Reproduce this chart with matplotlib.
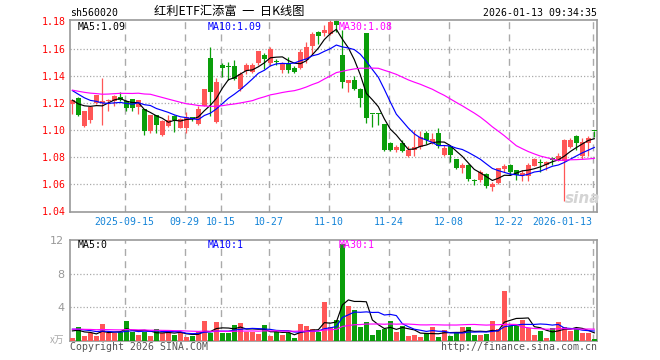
import numpy as np
import matplotlib.pyplot as plt

# trading days shown (2025-09-02 .. 2026-01-13)
dates = ['09-02', '09-03', '09-04', '09-05', '09-08', '09-09', '09-10', '09-11', '09-12',
         '09-15', '09-16', '09-17', '09-18', '09-19', '09-22', '09-23', '09-24', '09-25', '09-26',
         '09-29', '09-30', '10-09', '10-10', '10-13', '10-14', '10-15', '10-16', '10-17',
         '10-20', '10-21', '10-22', '10-23', '10-24', '10-27', '10-28', '10-29', '10-30', '10-31',
         '11-03', '11-04', '11-05', '11-06', '11-07', '11-10', '11-11', '11-12', '11-13', '11-14',
         '11-17', '11-18', '11-19', '11-20', '11-21', '11-24', '11-25', '11-26', '11-27', '11-28',
         '12-01', '12-02', '12-03', '12-04', '12-05', '12-08', '12-09', '12-10', '12-11', '12-12',
         '12-15', '12-16', '12-17', '12-18', '12-19', '12-22', '12-23', '12-24', '12-25', '12-26',
         '12-29', '12-30', '12-31', '01-05', '01-06', '01-07', '01-08', '01-09', '01-12', '01-13']

tick_dates = ['09-15', '09-29', '10-15', '10-27', '11-10', '11-24', '12-08', '12-22', '01-13']
tick_labels = ['2025-09-15', '09-29', '10-15', '10-27', '11-10', '11-24', '12-08', '12-22', '2026-01-13']

open_ = [1.119, 1.1235, 1.103, 1.107, 1.120, 1.120, 1.121, 1.1217, 1.1245, 1.121,
         1.1228, 1.117, 1.1155, 1.099, 1.111, 1.0963, 1.103, 1.1105, 1.1017, 1.1015,
         1.1094, 1.1042, 1.118, 1.1533, 1.1061, 1.148, 1.147, 1.1473, 1.130, 1.1432,
         1.1424, 1.149, 1.1554, 1.149, 1.1505, 1.1445, 1.149, 1.146, 1.1455, 1.1516,
         1.1615, 1.172, 1.1715, 1.171, 1.1805, 1.155, 1.1345, 1.137, 1.1302, 1.1715,
         1.1118, 1.112, 1.1045, 1.0906, 1.085, 1.0906, 1.0805, 1.0853, 1.0877, 1.0975,
         1.0915, 1.098, 1.0816, 1.0885, 1.0785, 1.0723, 1.0743, 1.0628, 1.0633, 1.0677,
         1.0583, 1.0613, 1.0711, 1.0743, 1.0702, 1.067, 1.0663, 1.0732, 1.0758, 1.0744,
         1.0793, 1.078, 1.0768, 1.0873, 1.0956, 1.0805, 1.0902, 1.0993]
high = [1.1222, 1.124, 1.1142, 1.1173, 1.126, 1.138, 1.123, 1.126, 1.128, 1.122,
        1.123, 1.122, 1.1155, 1.111, 1.111, 1.107, 1.111, 1.111, 1.1086, 1.113,
        1.1094, 1.118, 1.130, 1.1614, 1.138, 1.149, 1.150, 1.1517, 1.143, 1.149,
        1.149, 1.1585, 1.1567, 1.161, 1.152, 1.150, 1.154, 1.147, 1.160, 1.165,
        1.1725, 1.173, 1.177, 1.181, 1.181, 1.174, 1.137, 1.140, 1.131, 1.1715,
        1.112, 1.1125, 1.1045, 1.0915, 1.089, 1.0925, 1.088, 1.100, 1.0995, 1.099,
        1.0975, 1.1012, 1.089, 1.089, 1.0785, 1.076, 1.075, 1.0637, 1.0706, 1.068,
        1.062, 1.0718, 1.075, 1.075, 1.0705, 1.0705, 1.0756, 1.0795, 1.0788, 1.0775,
        1.0803, 1.083, 1.0935, 1.094, 1.0963, 1.094, 1.0956, 1.0993]
low = [1.112, 1.110, 1.102, 1.105, 1.119, 1.104, 1.114, 1.118, 1.121, 1.114,
       1.114, 1.112, 1.096, 1.098, 1.098, 1.0956, 1.1025, 1.0988, 1.1012, 1.098,
       1.1068, 1.1035, 1.118, 1.110, 1.105, 1.139, 1.137, 1.137, 1.1285, 1.141,
       1.142, 1.148, 1.1448, 1.147, 1.1475, 1.142, 1.142, 1.142, 1.145, 1.149,
       1.156, 1.163, 1.169, 1.170, 1.172, 1.131, 1.128, 1.1296, 1.117, 1.105,
       1.1025, 1.1035, 1.0845, 1.0845, 1.084, 1.084, 1.0798, 1.0805, 1.086, 1.090,
       1.090, 1.0865, 1.081, 1.0767, 1.071, 1.068, 1.0625, 1.0597, 1.062, 1.057,
       1.0547, 1.0603, 1.069, 1.067, 1.0634, 1.0622, 1.0622, 1.0732, 1.0688, 1.0705,
       1.0744, 1.0768, 1.0475, 1.0866, 1.0854, 1.079, 1.0805, 1.0946]
close = [1.122, 1.111, 1.114, 1.117, 1.1258, 1.121, 1.122, 1.125, 1.122, 1.116,
         1.116, 1.122, 1.0995, 1.111, 1.1037, 1.1068, 1.1074, 1.107, 1.108, 1.1096,
         1.108, 1.1155, 1.130, 1.128, 1.135, 1.1455, 1.1465, 1.1375, 1.1415, 1.1478,
         1.148, 1.158, 1.152, 1.160, 1.1502, 1.149, 1.1445, 1.1425, 1.1577, 1.1614,
         1.171, 1.169, 1.174, 1.1795, 1.177, 1.135, 1.137, 1.1303, 1.1235, 1.109,
         1.1115, 1.1115, 1.0855, 1.0855, 1.0875, 1.0846, 1.0853, 1.0872, 1.095, 1.0925,
         1.0934, 1.088, 1.0865, 1.0818, 1.0723, 1.0743, 1.0637, 1.0626, 1.0694, 1.0584,
         1.060, 1.0718, 1.0737, 1.0688, 1.067, 1.0683, 1.0744, 1.0788, 1.0756, 1.0763,
         1.078, 1.081, 1.0927, 1.0927, 1.0907, 1.0915, 1.0939, 1.0991]
# volume, 万手
volume = [0.4, 1.7, 0.6, 0.9, 0.6, 2.0, 0.9, 0.9, 1.1, 2.4,
          1.1, 0.7, 1.1, 0.6, 1.4, 1.0, 1.0, 0.7, 1.1, 0.5,
          0.6, 1.1, 2.4, 1.0, 2.3, 1.0, 1.0, 1.9, 2.1, 1.1,
          1.1, 0.8, 1.9, 0.6, 1.1, 0.7, 0.9, 0.4, 2.0, 1.8,
          1.4, 1.1, 4.6, 1.7, 2.5, 11.5, 4.1, 3.7, 1.7, 2.3,
          0.7, 1.3, 1.4, 2.4, 1.1, 1.8, 0.6, 0.7, 0.5, 0.9,
          1.7, 0.5, 1.3, 0.6, 1.0, 1.7, 1.7, 0.7, 0.7, 0.8,
          2.4, 1.4, 5.9, 1.8, 1.9, 2.5, 1.6, 0.7, 1.2, 0.4,
          1.5, 2.2, 1.7, 1.2, 1.4, 1.0, 1.0, 0.25]

# days before the window (not drawn), estimated from where the MA lines start
pre_close = [1.136, 1.137, 1.135, 1.136, 1.135,
             1.118, 1.116, 1.115, 1.117, 1.118, 1.116, 1.117, 1.117,
             1.140, 1.142, 1.143, 1.142, 1.143, 1.142, 1.125,
             1.138, 1.140, 1.136, 1.133, 1.133,
             1.125, 1.121, 1.119, 1.123]
pre_volume = [1.3, 1.5, 1.2, 1.6, 1.4, 1.3, 1.5, 1.4, 1.2, 1.6,
              1.4, 1.3, 1.5, 1.4, 1.5, 1.3, 1.4, 1.2, 1.6, 1.4,
              1.7, 1.5, 1.6, 1.8, 1.4,
              1.3, 1.6, 1.2, 1.5]

UP = '#ff5656'
DOWN = '#0a9e0a'
GRID = '#aaaaaa'
MONO = 'DejaVu Sans Mono'
W, H = 660, 360


def sma(values, n, keep):
    return np.convolve(values, np.ones(n) / n, mode='valid')[-keep:]


def fx(px):
    return px / W


def fy(py):
    return 1 - py / H


n = len(close)
x = np.arange(n)
o = np.array(open_)
c = np.array(close)
colors = [UP if c[i] > o[i] else DOWN for i in range(n)]

all_close = pre_close + close
all_vol = pre_volume + volume
ma = {k: sma(all_close, k, n) for k in (5, 10, 30)}
vma = {k: sma(all_vol, k, n) for k in (5, 10, 30)}
line_col = {5: 'black', 10: '#0000ff', 30: '#ff00ff'}

fig = plt.figure(figsize=(6.6, 3.6), dpi=100)
ax = fig.add_axes([fx(70), fy(212), fx(527), 192 / H])
axv = fig.add_axes([fx(70), fy(341), fx(527), 101 / H])

tick_pos = np.array([dates.index(d) for d in tick_dates]) - 0.28

for a in (ax, axv):
    a.set_xlim(-0.4, 87.45)
    for s in a.spines.values():
        s.set_color('#999999')
        s.set_linewidth(1.2)
    for t in tick_pos:
        a.axvline(t, color=GRID, lw=1.0, ls=(0, (5, 3.8)), zorder=0)

# price panel
ax.set_ylim(1.0396, 1.181)
for yv in [1.06, 1.08, 1.10, 1.12, 1.14, 1.16]:
    ax.axhline(yv, color=GRID, lw=0.9, ls=(0, (1, 1.6)), zorder=0)

body = np.maximum(np.abs(c - o), 0.0007)
ax.vlines(x, low, high, colors=colors, lw=0.9, zorder=2)
ax.bar(x, body, bottom=np.minimum(o, c), width=0.78, color=colors, lw=0, zorder=3)
for k in (5, 10, 30):
    ax.plot(x, ma[k], color=line_col[k], lw=0.85, zorder=4)

yt = [1.04, 1.06, 1.08, 1.10, 1.12, 1.14, 1.16, 1.18]
ax.set_yticks(yt, ['%.2f' % v for v in yt])
ax.tick_params(axis='y', length=0, pad=3, labelsize=7.1, labelcolor='#ff0000')
ax.set_xticks(tick_pos, tick_labels)
ax.tick_params(axis='x', length=0, pad=3.5, labelsize=7.1, labelcolor='#1484d8')
for lab in ax.get_yticklabels() + ax.get_xticklabels():
    lab.set_family(MONO)
ax.get_xticklabels()[-1].set_horizontalalignment('right')

ax.text(0.9, 1.176, 'MA5:%.2f' % ma[5][-1], color='black', family=MONO, fontsize=7.1, va='center')
ax.text(22.5, 1.176, 'MA10:%.2f' % ma[10][-1], color='#0000ff', family=MONO, fontsize=7.1, va='center')
ax.text(44.3, 1.176, 'MA30:%.2f' % ma[30][-1], color='#ff00ff', family=MONO, fontsize=7.1, va='center')

# volume panel
axv.set_ylim(0, 12)
for yv in [4, 8]:
    axv.axhline(yv, color=GRID, lw=0.9, ls=(0, (1, 1.6)), zorder=0)
axv.bar(x, volume, width=0.78, color=colors, lw=0, zorder=3)
for k in (5, 10, 30):
    axv.plot(x, vma[k], color=line_col[k], lw=0.85, zorder=4)
axv.set_yticks([4, 8, 12], ['4', '8', '12'])
axv.tick_params(axis='y', length=0, pad=4, labelsize=8, labelcolor='#999999')
axv.set_xticks([])
axv.text(0.9, 11.4, 'MA5:%d' % int(vma[5][-1]), color='black', family=MONO, fontsize=7.1, va='center')
axv.text(22.5, 11.4, 'MA10:%d' % int(vma[10][-1]), color='#0000ff', family=MONO, fontsize=7.1, va='center')
axv.text(44.3, 11.4, 'MA30:%d' % int(vma[30][-1]), color='#ff00ff', family=MONO, fontsize=7.1, va='center')

# header / footer texts
fig.text(fx(70), fy(13), 'sh560020', family=MONO, fontsize=7.1, va='center', ha='left')
fig.text(fx(229), fy(11.5), '红利ETF汇添富  一  日K线图', family=['Noto Sans CJK SC', 'DejaVu Sans'],
         fontsize=8.8, va='center', ha='center')
fig.text(fx(597), fy(13), '2026-01-13 09:34:35', family=MONO, fontsize=7.1, va='center', ha='right')
fig.text(fx(64), fy(340), 'x万', family=['Noto Sans CJK SC', 'DejaVu Sans'], fontsize=7,
         color='#aaaaaa', va='center', ha='right')
fig.text(fx(70), fy(346.5), 'Copyright 2026 SINA.COM', family=MONO, fontsize=7.1, color='#555555',
         va='center', ha='left')
fig.text(fx(597), fy(346.5), 'http://finance.sina.com.cn', family=MONO, fontsize=7.1, color='#555555',
         va='center', ha='right')
fig.text(fx(583), fy(198), 'sina', fontsize=11, style='italic', weight='bold', color='#d4d4d4',
         va='center', ha='center', zorder=1)

fig.savefig('out.png', dpi=100)
